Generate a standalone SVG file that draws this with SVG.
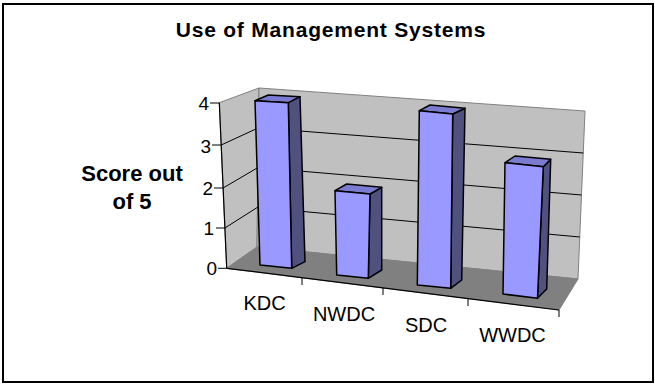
<svg xmlns="http://www.w3.org/2000/svg" width="655" height="385" viewBox="0 0 655 385">
<style>
.t{font-family:"Liberation Sans",Arial,sans-serif;fill:#000}
.b{font-weight:bold}
.ax{font-size:19px}
.cat{font-size:20px;text-anchor:middle}
.front{fill:#9999FF;stroke:#000;stroke-width:1.5;stroke-linejoin:round}
.top{fill:#7B7BD0;stroke:#000;stroke-width:1.5;stroke-linejoin:round}
.side{fill:#51517F;stroke:#000;stroke-width:1.5;stroke-linejoin:round}
.grid{stroke:#000;stroke-width:1;fill:none}
.wall{fill:#C0C0C0;stroke:#808080;stroke-width:1}
</style>
<rect x="0" y="0" width="655" height="385" fill="#fff"/>
<rect x="3" y="4" width="650" height="378" fill="#fff" stroke="#000" stroke-width="2"/>
<text id="title" class="t b" x="331" y="37" font-size="21" text-anchor="middle" letter-spacing="0.8">Use of Management Systems</text>
<g id="ylabel">
<text class="t b" x="132" y="181" font-size="22" text-anchor="middle">Score out</text>
<text class="t b" x="132" y="209" font-size="22" text-anchor="middle">of 5</text>
</g>
<g id="walls">
<polygon class="wall" points="219.3,102.7 259,88 257,247 226.7,268.3"/>
<polygon class="wall" points="259,88 585,111 578,279 257,247"/>
</g>
<g id="gridlines">
<polyline class="grid" points="224.9,228 257.5,207.3 579.8,237"/>
<polyline class="grid" points="223.1,188 258,167.5 581.5,195"/>
<polyline class="grid" points="221.2,145 258.5,127.8 583.3,153"/>
</g>
<polygon id="floor" points="226.7,268.3 257,247 578,279 559,310" fill="#808080" stroke="#808080" stroke-width="1"/>
<g id="connectors">
<line x1="219.3" y1="102.7" x2="226.7" y2="268.3" stroke="#000" stroke-width="1.2"/>
<line x1="226.7" y1="268.3" x2="559" y2="310" stroke="#000" stroke-width="1.2"/>
<g stroke="#000" stroke-width="1">
<line x1="210" y1="103" x2="219.3" y2="103"/>
<line x1="212" y1="145" x2="221.2" y2="145"/>
<line x1="214" y1="188" x2="223.1" y2="188"/>
<line x1="216" y1="228" x2="224.9" y2="228"/>
<line x1="218" y1="268.3" x2="226.7" y2="268.3"/>
<line x1="302" y1="278" x2="302" y2="285"/>
<line x1="383" y1="288" x2="383" y2="295"/>
<line x1="468" y1="299" x2="468" y2="306"/>
<line x1="559" y1="310" x2="559" y2="317"/>
</g>
</g>
<g id="yaxis-labels" class="t ax" text-anchor="end">
<text x="209" y="110">4</text>
<text x="211" y="153">3</text>
<text x="213" y="195">2</text>
<text x="214" y="235">1</text>
<text x="217" y="275">0</text>
</g>
<g id="bar-KDC">
<polygon class="side" points="288.3,102.7 300,96.7 305,261.7 291.7,268.3"/>
<polygon class="top" points="255,100.7 268.3,95 300,96.7 288.3,102.7"/>
<polygon class="front" points="255,100.7 288.3,102.7 291.7,268.3 260,265"/>
</g>
<g id="bar-NWDC">
<polygon class="side" points="370,194 381.7,187.3 381.7,270 368.3,278.3"/>
<polygon class="top" points="335,190.7 346.7,184 381.7,187.3 370,194"/>
<polygon class="front" points="335,190.7 370,194 368.3,278.3 336.7,275"/>
</g>
<g id="bar-SDC">
<polygon class="side" points="452.7,114 465,108.3 461.7,280 450.7,288.3"/>
<polygon class="top" points="419.3,110.7 430,105 465,108.3 452.7,114"/>
<polygon class="front" points="419.3,110.7 452.7,114 450.7,288.3 417.3,285"/>
</g>
<g id="bar-WWDC">
<polygon class="side" points="543.3,166.7 550.7,159.3 546.7,289 537.5,298.3"/>
<polygon class="top" points="505,162.7 515,156 550.7,159.3 543.3,166.7"/>
<polygon class="front" points="505,162.7 543.3,166.7 537.5,298.3 503,294"/>
</g>
<g id="categories" class="t cat">
<text x="264.5" y="310">KDC</text>
<text x="344" y="321">NWDC</text>
<text x="426" y="332">SDC</text>
<text x="512.5" y="342">WWDC</text>
</g>
</svg>
